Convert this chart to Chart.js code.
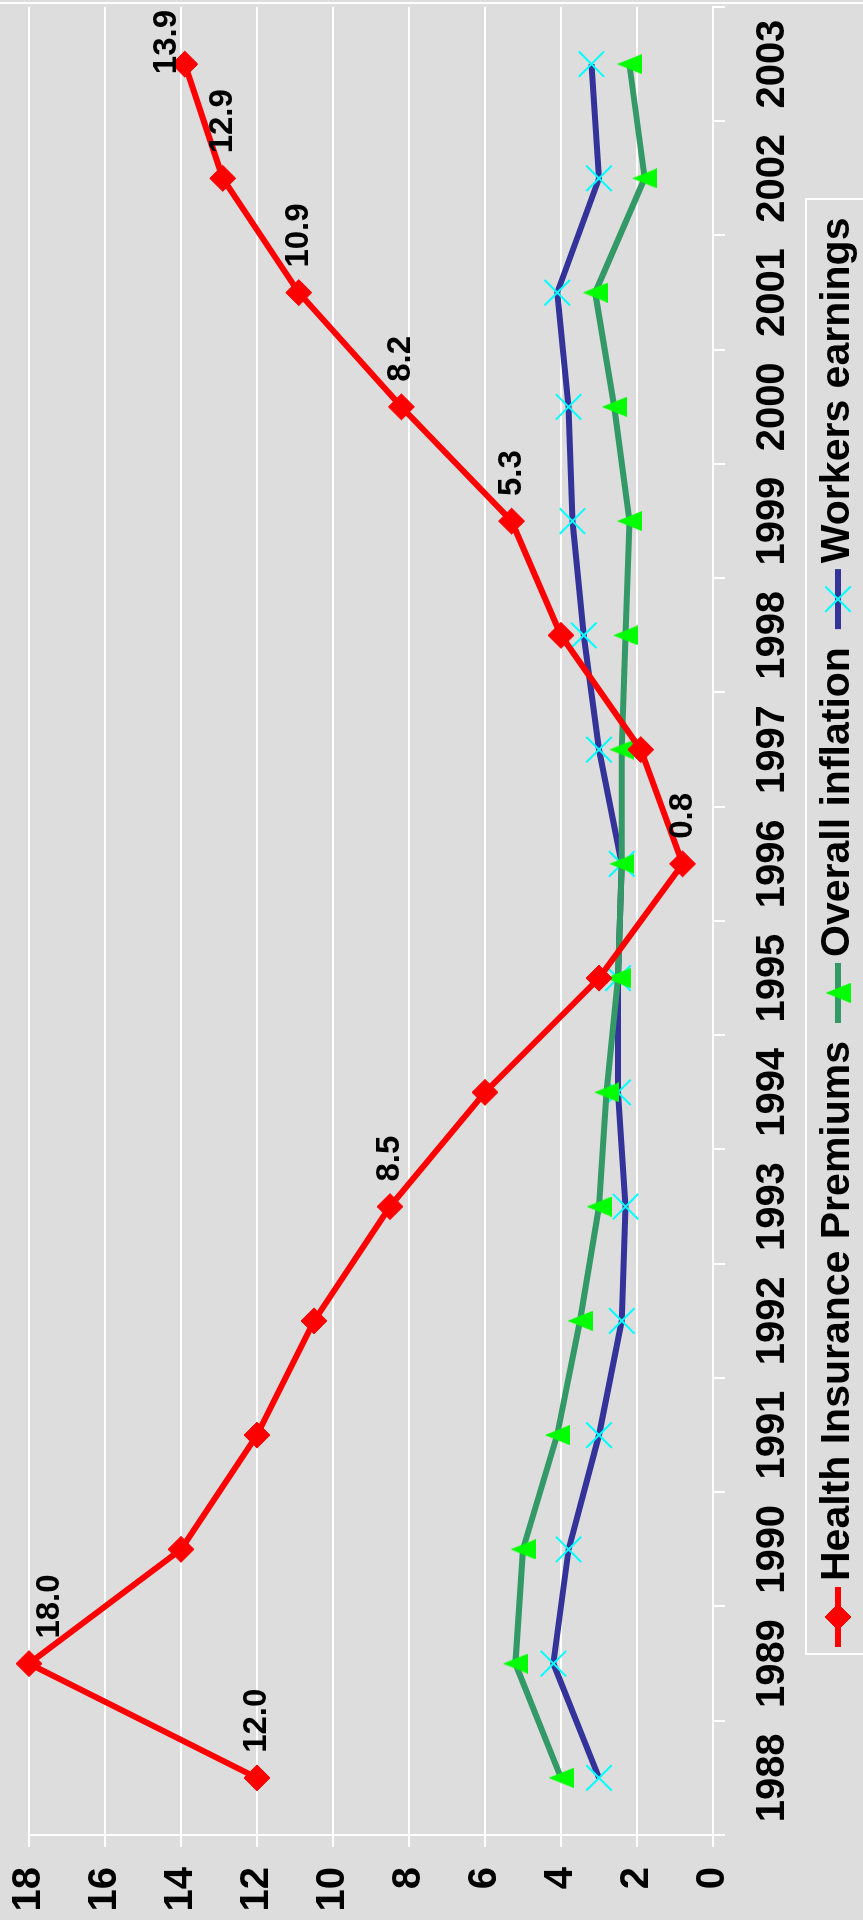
<!DOCTYPE html>
<html>
<head>
<meta charset="utf-8">
<title>Health Insurance Premiums, Overall inflation, Workers earnings</title>
<script src="https://cdn.jsdelivr.net/npm/chart.js@4.4.0/dist/chart.umd.min.js"></script>
<style>
    html, body { margin: 0; padding: 0; background: #dddddd; overflow: hidden; }
    body { width: 863px; height: 1920px; position: relative; }
    /* the chart is laid out landscape and turned a quarter turn to the left */
    #wrap {
        position: absolute; left: 0; top: 1920px;
        width: 1920px; height: 863px;
        transform: rotate(-90deg); transform-origin: 0 0;
    }
</style>
</head>
<body>
<div id="wrap"><canvas id="chart" width="1920" height="863"></canvas></div>
<script>
// Data (percent change per year)
const years = ['1988', '1989', '1990', '1991', '1992', '1993', '1994', '1995',
               '1996', '1997', '1998', '1999', '2000', '2001', '2002', '2003'];
const healthPremiums   = [12.0, 18.0, 14.0, 12.0, 10.5, 8.5, 6.0, 3.0, 0.8, 1.9, 4.0, 5.3, 8.2, 10.9, 12.9, 13.9];
const overallInflation = [4.0, 5.2, 5.0, 4.1, 3.5, 3.0, 2.8, 2.5, 2.4, 2.4, 2.3, 2.2, 2.6, 3.1, 1.8, 2.2];
const workersEarnings  = [3.0, 4.2, 3.8, 3.0, 2.4, 2.3, 2.5, 2.5, 2.4, 3.0, 3.4, 3.7, 3.8, 4.1, 3.0, 3.2];
const valueTicks = [0, 2, 4, 6, 8, 10, 12, 14, 16, 18];
// years whose premium value is printed next to the point
const labelledYears = ['1988', '1989', '1993', '1996', '1999', '2000', '2001', '2002', '2003'];

const FONT = '"Liberation Sans", Arial, Helvetica, sans-serif';
Chart.defaults.font.family = FONT;
Chart.defaults.font.weight = 'bold';
Chart.defaults.color = '#000';

// Green triangle marker, a bit taller than wide like the Excel one
const triangleMarker = document.createElement('canvas');
triangleMarker.width = 20;
triangleMarker.height = 25;
(() => {
    const c = triangleMarker.getContext('2d');
    c.fillStyle = '#00ff00';
    c.beginPath();
    c.moveTo(10, 0);
    c.lineTo(20, 25);
    c.lineTo(0, 25);
    c.closePath();
    c.fill();
})();

// Outer white border line of the chart
const frameLine = {
    id: 'frameLine',
    beforeDraw(chart) {
        const ctx = chart.ctx;
        ctx.save();
        ctx.strokeStyle = '#ffffff';
        ctx.lineWidth = 2;
        ctx.beginPath();
        ctx.moveTo(1917, 0);
        ctx.lineTo(1917, chart.height);
        ctx.stroke();
        ctx.restore();
    }
};

// Value labels on the premiums line
const pointLabels = {
    id: 'pointLabels',
    afterDatasetsDraw(chart) {
        const ctx = chart.ctx;
        const meta = chart.getDatasetMeta(0);
        ctx.save();
        ctx.font = 'bold 33px ' + FONT;
        ctx.fillStyle = '#000';
        ctx.textBaseline = 'middle';
        ctx.textAlign = 'left';
        meta.data.forEach((pt, i) => {
            if (!labelledYears.includes(years[i])) return;
            const text = healthPremiums[i].toFixed(1);
            const w = ctx.measureText(text).width;
            let x = pt.x + 25;
            let y = Math.max(pt.y, 50);
            if (x + w > chart.width - 10) {
                x = chart.width - 10 - w;
                y = pt.y - 18;
            }
            ctx.fillText(text, x, y);
        });
        ctx.restore();
    }
};

// Legend: line + marker + name, inside a white box
const legendBox = {
    id: 'legendBox',
    afterDraw(chart) {
        const ctx = chart.ctx;
        ctx.save();
        ctx.strokeStyle = '#ffffff';
        ctx.lineWidth = 2;
        ctx.strokeRect(266, 806, 1455, 120);

        ctx.font = 'bold 41px ' + FONT;
        ctx.textBaseline = 'middle';
        ctx.textAlign = 'left';
        const y = 838;
        let x = 273;
        chart.data.datasets.forEach(ds => {
            ctx.strokeStyle = ds.borderColor;
            ctx.lineWidth = ds.borderWidth;
            ctx.beginPath();
            ctx.moveTo(x, y);
            ctx.lineTo(x + 60, y);
            ctx.stroke();

            ctx.fillStyle = ds.pointBackgroundColor;
            ctx.strokeStyle = ds.pointBorderColor;
            ctx.lineWidth = ds.pointBorderWidth;
            Chart.helpers.drawPoint(ctx, {
                pointStyle: ds.pointStyle,
                radius: ds.pointRadius,
                borderWidth: ds.pointBorderWidth,
                rotation: 0
            }, x + 30, y);

            ctx.fillStyle = '#000';
            ctx.fillText(ds.label, x + 66, y);
            x += 66 + ctx.measureText(ds.label).width + 18;
        });
        ctx.restore();
    }
};

new Chart(document.getElementById('chart'), {
    type: 'line',
    data: {
        labels: years,
        datasets: [
            {
                label: 'Health Insurance Premiums',
                data: healthPremiums,
                borderColor: '#ff0000',
                borderWidth: 6,
                pointStyle: 'rectRot',
                pointRadius: 13,
                pointBackgroundColor: '#ff0000',
                pointBorderColor: '#ff0000',
                pointBorderWidth: 1,
                clip: false
            },
            {
                label: 'Overall inflation',
                data: overallInflation,
                borderColor: '#339966',
                borderWidth: 6,
                pointStyle: triangleMarker,
                pointRadius: 13,
                pointBackgroundColor: '#00ff00',
                pointBorderColor: '#00ff00',
                pointBorderWidth: 0,
                clip: false
            },
            {
                label: 'Workers earnings',
                data: workersEarnings,
                borderColor: '#333399',
                borderWidth: 6,
                pointStyle: 'crossRot',
                pointRadius: 18,
                pointBackgroundColor: '#00ffff',
                pointBorderColor: '#00ffff',
                pointBorderWidth: 2,
                clip: false
            }
        ]
    },
    options: {
        responsive: false,
        animation: false,
        devicePixelRatio: 1,
        layout: {
            autoPadding: false,
            padding: { top: 29, right: 7, left: 0, bottom: 0 }
        },
        plugins: {
            legend: { display: false },
            tooltip: { enabled: false }
        },
        scales: {
            x: {
                offset: true,
                grid: {
                    offset: true,
                    drawOnChartArea: false,
                    color: '#ffffff',
                    lineWidth: 2,
                    tickLength: 12
                },
                border: { color: '#ffffff', width: 2 },
                ticks: {
                    font: { size: 40, weight: 'bold' },
                    color: '#000',
                    padding: 24,
                    maxRotation: 0,
                    autoSkip: false
                },
                afterFit: s => {
                    s.height = 150;
                    s.paddingLeft = 0;
                    s.paddingRight = 0;
                }
            },
            y: {
                min: 0,
                max: 18,
                afterBuildTicks: s => { s.ticks = valueTicks.map(v => ({ value: v })); },
                grid: { color: '#ffffff', lineWidth: 2, tickLength: 12 },
                border: { color: '#ffffff', width: 2 },
                ticks: {
                    font: { size: 40, weight: 'bold' },
                    color: '#000',
                    padding: 20
                },
                afterFit: s => {
                    s.width = 85;
                    s.paddingTop = 0;
                    s.paddingBottom = 0;
                }
            }
        }
    },
    plugins: [frameLine, pointLabels, legendBox]
});
</script>
</body>
</html>
